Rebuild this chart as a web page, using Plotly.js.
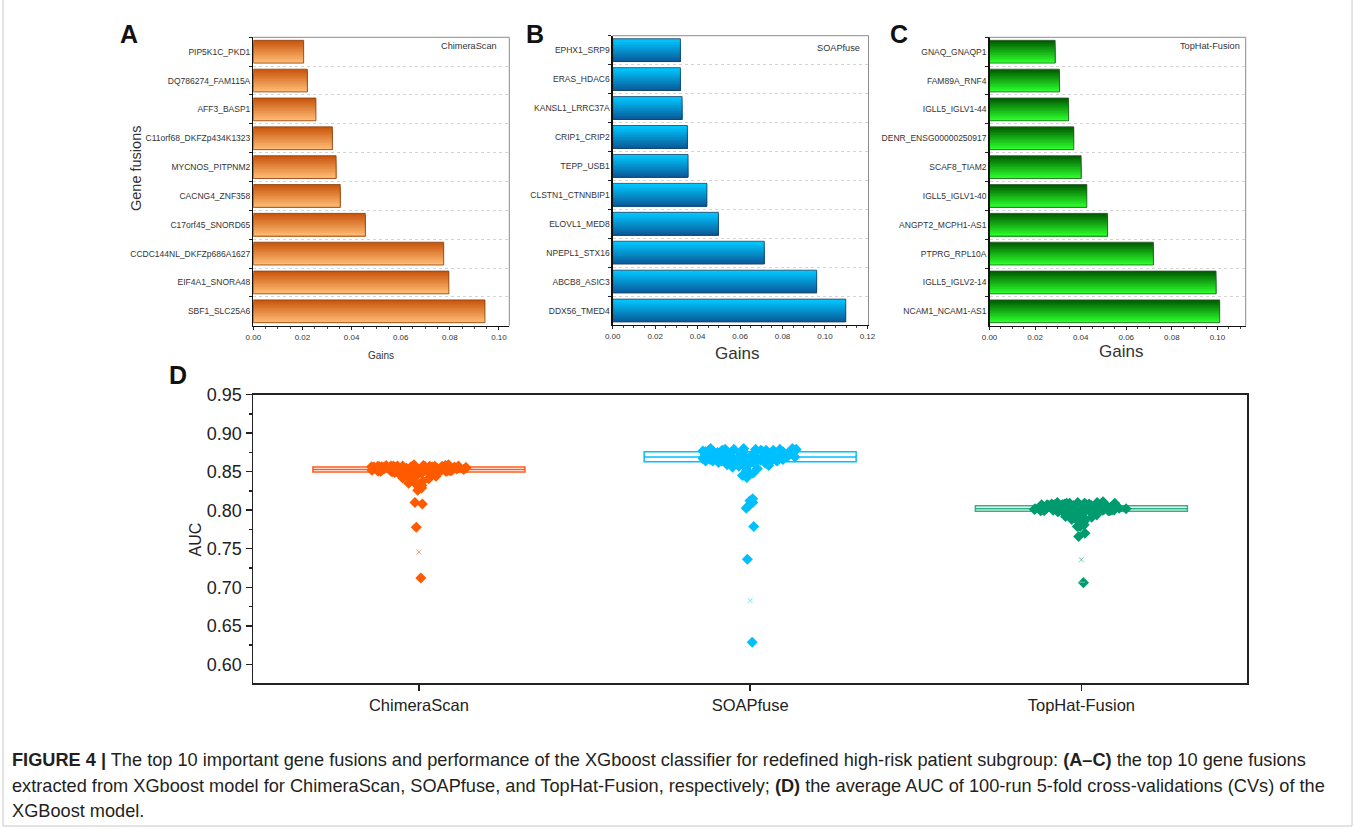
<!DOCTYPE html>
<html><head><meta charset="utf-8">
<script src="https://cdn.plot.ly/plotly-3.0.1.min.js"></script>
<style>html,body{margin:0;padding:0;background:#fff}#chart{width:1356px;height:829px}</style>
</head><body><div id="chart"></div>
<script>
// ---------- DATA ----------
const chimeraGenes = ['PIP5K1C_PKD1','DQ786274_FAM115A','AFF3_BASP1','C11orf68_DKFZp434K1323','MYCNOS_PITPNM2','CACNG4_ZNF358','C17orf45_SNORD65','CCDC144NL_DKFZp686A1627','EIF4A1_SNORA48','SBF1_SLC25A6'];
const chimeraGains = [0.0205,0.0220,0.0255,0.0322,0.0337,0.0354,0.0456,0.0775,0.0796,0.0943];
const soapGenes = ['EPHX1_SRP9','ERAS_HDAC6','KANSL1_LRRC37A','CRIP1_CRIP2','TEPP_USB1','CLSTN1_CTNNBIP1','ELOVL1_MED8','NPEPL1_STX16','ABCB8_ASIC3','DDX56_TMED4'];
const soapGains = [0.0319,0.0319,0.0327,0.0352,0.0355,0.0444,0.0498,0.0714,0.0961,0.1098];
const tophatGenes = ['GNAQ_GNAQP1','FAM89A_RNF4','IGLL5_IGLV1-44','DENR_ENSG00000250917','SCAF8_TIAM2','IGLL5_IGLV1-40','ANGPT2_MCPH1-AS1','PTPRG_RPL10A','IGLL5_IGLV2-14','NCAM1_NCAM1-AS1'];
const tophatGains = [0.0288,0.0307,0.0347,0.0370,0.0402,0.0427,0.0518,0.0719,0.0994,0.1010];

const methods = ['ChimeraScan','SOAPfuse','TopHat-Fusion'];
const chimeraAUC = [0.712,0.778,0.808,0.810,0.826,0.829,0.831,0.832,0.834,0.835,0.838,0.839,0.841,0.842,0.843,0.844,0.845,0.846,0.846,0.847,0.847,0.848,0.848,0.849,0.849,
  0.850,0.850,0.850,0.850,0.8505,0.8505,0.8505,0.851,0.851,0.851,0.851,0.851,0.8515,0.8515,0.8515,0.8515,0.852,0.852,0.852,0.852,0.852,0.8525,0.8525,0.8525,0.8525,
  0.853,0.853,0.853,0.853,0.853,0.853,0.8535,0.8535,0.8535,0.8535,0.854,0.854,0.854,0.854,0.854,0.8545,0.8545,0.8545,0.8545,0.855,0.855,0.855,0.855,0.8555,0.8555,
  0.856,0.856,0.856,0.856,0.856,0.8565,0.8565,0.8565,0.8565,0.8565,0.857,0.857,0.857,0.857,0.857,0.857,0.8575,0.8575,0.8575,0.8575,0.858,0.858,0.858,0.859,0.859];
const soapAUC = [0.6285,0.7364,0.779,0.8027,0.806,0.810,0.8122,0.815,0.8425,0.845,0.848,0.852,0.854,0.856,0.857,0.858,0.859,0.859,0.860,0.860,0.861,0.861,0.862,0.862,0.8625,
  0.863,0.863,0.863,0.864,0.864,0.864,0.864,0.865,0.865,0.865,0.865,0.866,0.866,0.866,0.866,0.867,0.867,0.867,0.867,0.867,0.868,0.868,0.868,0.868,0.868,
  0.869,0.869,0.869,0.869,0.869,0.870,0.870,0.870,0.870,0.870,0.871,0.871,0.871,0.871,0.872,0.872,0.872,0.872,0.873,0.873,0.873,0.874,0.874,0.875,0.875,
  0.876,0.876,0.876,0.876,0.876,0.877,0.877,0.877,0.877,0.877,0.877,0.878,0.878,0.878,0.878,0.878,0.878,0.879,0.879,0.879,0.879,0.879,0.880,0.880,0.880];
const tophatAUC = [0.706,0.766,0.770,0.779,0.781,0.779,0.783,0.786,0.787,0.788,0.789,0.790,0.791,0.792,0.793,0.794,0.795,0.795,0.796,0.796,0.797,0.797,0.798,0.798,0.7985,
  0.799,0.799,0.799,0.799,0.7995,0.7995,0.7995,0.7995,0.800,0.800,0.800,0.800,0.800,0.8005,0.8005,0.8005,0.8005,0.801,0.801,0.801,0.801,0.801,0.8015,0.8015,0.8015,
  0.8015,0.802,0.802,0.802,0.802,0.802,0.8025,0.8025,0.8025,0.8025,0.803,0.803,0.803,0.803,0.8035,0.8035,0.8035,0.804,0.804,0.804,0.8045,0.8045,0.805,0.805,0.805,
  0.806,0.806,0.806,0.806,0.806,0.806,0.807,0.807,0.807,0.807,0.807,0.807,0.808,0.808,0.808,0.808,0.808,0.809,0.809,0.809,0.809,0.810,0.810,0.810,0.811];
// box statistics
const boxQ1 = [0.8497, 0.8629, 0.7988];
const boxMedian = [0.8528, 0.8690, 0.8020];
const boxQ3 = [0.8560, 0.8759, 0.8057];
const boxLower = [0.8497, 0.8460, 0.7988];
const boxUpper = [0.8560, 0.8759, 0.8057];
const pct1 = [0.7456, 0.6827, 0.7356];   // "x" markers
const minMark = [null, null, 0.7065];   // "-" marker

// ---------- HELPERS ----------
function hex(h){h=h.replace('#','');return [0,2,4].map(i=>parseInt(h.substr(i,2),16));}
function lerp(a,b,t){const A=hex(a),B=hex(b);return 'rgb('+A.map((v,i)=>Math.round(v+(B[i]-v)*t)).join(',')+')';}
function gradientBars(genes, gains, xa, ya, top, bottom, edge){
  const N = 14, W = 0.79, out = [];
  for(let k=0;k<N;k++){
    const w = W*(N-k)/N;
    out.push({type:'bar', orientation:'h', x:gains, y:genes, xaxis:xa, yaxis:ya,
      width:w, offset:W/2-w, marker:{color:lerp(top,bottom,k/(N-1)), line:{width:0}},
      hoverinfo:'skip', showlegend:false});
  }
  out.push({type:'bar', orientation:'h', x:gains, y:genes, xaxis:xa, yaxis:ya,
    width:W, offset:-W/2, marker:{color:'rgba(0,0,0,0)', line:{color:edge, width:0.8}},
    hoverinfo:'skip', showlegend:false});
  return out;
}

const W = 1356, H = 829;
const px = v => v/W, py = v => 1 - v/H;

let traces = [];
traces = traces.concat(gradientBars(chimeraGenes, chimeraGains, 'x', 'y', '#c9560d', '#ffbb74', '#8a3f10'));
traces = traces.concat(gradientBars(soapGenes, soapGains, 'x2', 'y2', '#00c8ff', '#0a5c9c', '#1d3c5c'));
traces = traces.concat(gradientBars(tophatGenes, tophatGains, 'x3', 'y3', '#005c00', '#2cff2c', '#2d5a2d'));

const aucSets = [chimeraAUC, soapAUC, tophatAUC];
const ptColors = ['#ff5a00', '#00bfff', '#009b6e'];
const boxColors = ['#ff5a1a', '#00bfff', '#2db383'];
const lightColors = ['#f6a27a', '#80dcff', '#66c9a6'];

methods.forEach((m,i)=>{
  traces.push({type:'box', x:[m], q1:[boxQ1[i]], median:[boxMedian[i]], q3:[boxQ3[i]],
    lowerfence:[boxLower[i]], upperfence:[boxUpper[i]], xaxis:'x4', yaxis:'y4',
    width:0.64, whiskerwidth:0.05, fillcolor:'#ffffff', line:{color:boxColors[i], width:1.5},
    boxpoints:false, hoverinfo:'skip', showlegend:false});
});
methods.forEach((m,i)=>{
  traces.push({type:'box', y:aucSets[i], x:aucSets[i].map(()=>m), xaxis:'x4', yaxis:'y4',
    width:0.64, boxpoints:'all', jitter:0.45, pointpos:0,
    fillcolor:'rgba(0,0,0,0)', line:{color:'rgba(0,0,0,0)', width:0},
    marker:{symbol:'diamond', size:8.5, color:ptColors[i], line:{width:0}},
    hoverinfo:'y', showlegend:false});
});
traces.push({type:'scatter', mode:'markers', x:methods, y:pct1, xaxis:'x4', yaxis:'y4',
  marker:{symbol:'x-thin', size:5, color:lightColors, line:{color:lightColors, width:1}},
  hoverinfo:'skip', showlegend:false});
traces.push({type:'scatter', mode:'markers', x:methods, y:minMark, xaxis:'x4', yaxis:'y4',
  marker:{symbol:'line-ew', size:5, color:lightColors, line:{color:lightColors, width:1}},
  hoverinfo:'skip', showlegend:false});

const FONT = 'Liberation Sans, Arial, sans-serif';
function barX(domain, range, anchor){
  return {domain:domain, anchor:anchor, range:range, tick0:0, dtick:0.02, tickformat:'.2f',
    ticks:'outside', ticklen:3, tickwidth:1, tickcolor:'#222', showline:true, linecolor:'#111', linewidth:1.3,
    showgrid:false, zeroline:false, tickfont:{size:8, color:'#333', family:FONT},
    minor:{dtick:0.005, ticks:'outside', ticklen:1.5, tickcolor:'#444', showgrid:false}};
}
function barY(domain, genes, anchor){
  return {domain:domain, anchor:anchor, type:'category', categoryorder:'array', categoryarray:genes,
    range:[9.5,-0.5], tickson:'boundaries', ticks:'outside', ticklen:3, tickcolor:'#222',
    showline:true, linecolor:'#111', linewidth:1.3, showgrid:true, gridcolor:'#d4d4d4', griddash:'dot', gridwidth:1,
    zeroline:false, tickfont:{size:8.5, color:'#333', family:FONT}};
}
const yDomA = [py(325.7), py(37.3)];
const layout = {
  width:W, height:H, margin:{l:0,r:0,t:0,b:0}, paper_bgcolor:'#fff', plot_bgcolor:'#fff',
  barmode:'overlay', boxmode:'overlay', showlegend:false, font:{family:FONT},
  xaxis: barX([px(253.3), px(509.3)], [0, 0.1042], 'y'),
  yaxis: barY(yDomA, chimeraGenes, 'x'),
  xaxis2: barX([px(612.7), px(868.5)], [0, 0.1205], 'y2'),
  yaxis2: barY([py(325), py(35.7)], soapGenes, 'x2'),
  xaxis3: barX([px(989.5), px(1245.7)], [0, 0.1124], 'y3'),
  yaxis3: barY(yDomA, tophatGenes, 'x3'),
  xaxis4: {domain:[px(253.3), px(1247)], anchor:'y4', type:'category', categoryorder:'array', categoryarray:methods,
    range:[-0.5, 2.5], ticks:'outside', ticklen:6, tickwidth:1.5, tickcolor:'#222', showline:true, mirror:true,
    linecolor:'#222', linewidth:1.8, showgrid:false, tickfont:{size:16.5, color:'#222', family:FONT}},
  yaxis4: {domain:[py(683.3), py(394.7)], anchor:'x4', range:[0.5753, 0.95], dtick:0.05, tick0:0.6, tickformat:'.2f',
    ticks:'outside', ticklen:6, tickwidth:1.5, tickcolor:'#222', showline:true, mirror:true,
    linecolor:'#222', linewidth:1.8, showgrid:false, zeroline:false, tickfont:{size:18, color:'#222', family:FONT},
    minor:{dtick:0.025, ticks:'outside', ticklen:3, tickcolor:'#222'}},
  shapes: [],
  annotations: []
};
['', '2', '3'].forEach(s=>{
  layout.shapes.push({type:'line', xref:'x'+s+' domain', yref:'y'+s+' domain', x0:0, x1:1, y0:1, y1:1, line:{color:'#8c8c8c', width:1}});
  layout.shapes.push({type:'line', xref:'x'+s+' domain', yref:'y'+s+' domain', x0:1, x1:1, y0:0, y1:1, line:{color:'#8c8c8c', width:1}});
});
// outer frame
layout.shapes.push({type:'line', xref:'paper', yref:'paper', x0:px(3), x1:px(3), y0:py(0), y1:py(826), line:{color:'#c8c8c8', width:1}});
layout.shapes.push({type:'line', xref:'paper', yref:'paper', x0:px(1352), x1:px(1352), y0:py(0), y1:py(826), line:{color:'#c8c8c8', width:1}});
layout.shapes.push({type:'line', xref:'paper', yref:'paper', x0:px(3), x1:px(1352), y0:py(826), y1:py(826), line:{color:'#c8c8c8', width:1}});

function ann(text, x, y, opts){
  layout.annotations.push(Object.assign({text:text, xref:'paper', yref:'paper', x:px(x), y:py(y),
    showarrow:false, xanchor:'center', yanchor:'middle', font:{family:FONT, size:12, color:'#222'}}, opts||{}));
}
const bold = (s,x,y)=>ann('<b>'+s+'</b>', x, y, {font:{family:FONT, size:25, color:'#111'}});
bold('A', 129, 34); bold('B', 535, 34); bold('C', 899, 34); bold('D', 178, 375);
ann('ChimeraScan', 499, 46.5, {xanchor:'right', font:{family:FONT, size:9.2, color:'#333'}});
ann('SOAPfuse', 861.5, 48, {xanchor:'right', font:{family:FONT, size:9.2, color:'#333'}});
ann('TopHat-Fusion', 1242, 46.5, {xanchor:'right', font:{family:FONT, size:9.2, color:'#333'}});
ann('Gains', 381.3, 355, {font:{family:FONT, size:10, color:'#333'}});
ann('Gains', 736.5, 353, {font:{family:FONT, size:17, color:'#333'}});
ann('Gains', 1121, 351, {font:{family:FONT, size:17, color:'#333'}});
ann('Gene fusions', 136, 169, {textangle:-90, font:{family:FONT, size:14.5, color:'#333'}});
ann('AUC', 195, 539.5, {textangle:-90, font:{family:FONT, size:16, color:'#222'}});

const CAP = 'Liberation Sans Narrow, Arial Narrow, Liberation Sans, Arial, sans-serif';
const capFont = {family:CAP, size:18.2, color:'#231f20'};
ann('<b>FIGURE 4 |</b> The top 10 important gene fusions and performance of the XGboost classifier for redefined high-risk patient subgroup: <b>(A–C)</b> the top 10 gene fusions', 10, 760, {xanchor:'left', font:capFont});
ann('extracted from XGboost model for ChimeraScan, SOAPfuse, and TopHat-Fusion, respectively; <b>(D)</b> the average AUC of 100-run 5-fold cross-validations (CVs) of the', 10, 786, {xanchor:'left', font:capFont});
ann('XGBoost model.', 10, 811, {xanchor:'left', font:capFont});

Plotly.newPlot('chart', traces, layout, {displayModeBar:false, staticPlot:true});
</script></body></html>
